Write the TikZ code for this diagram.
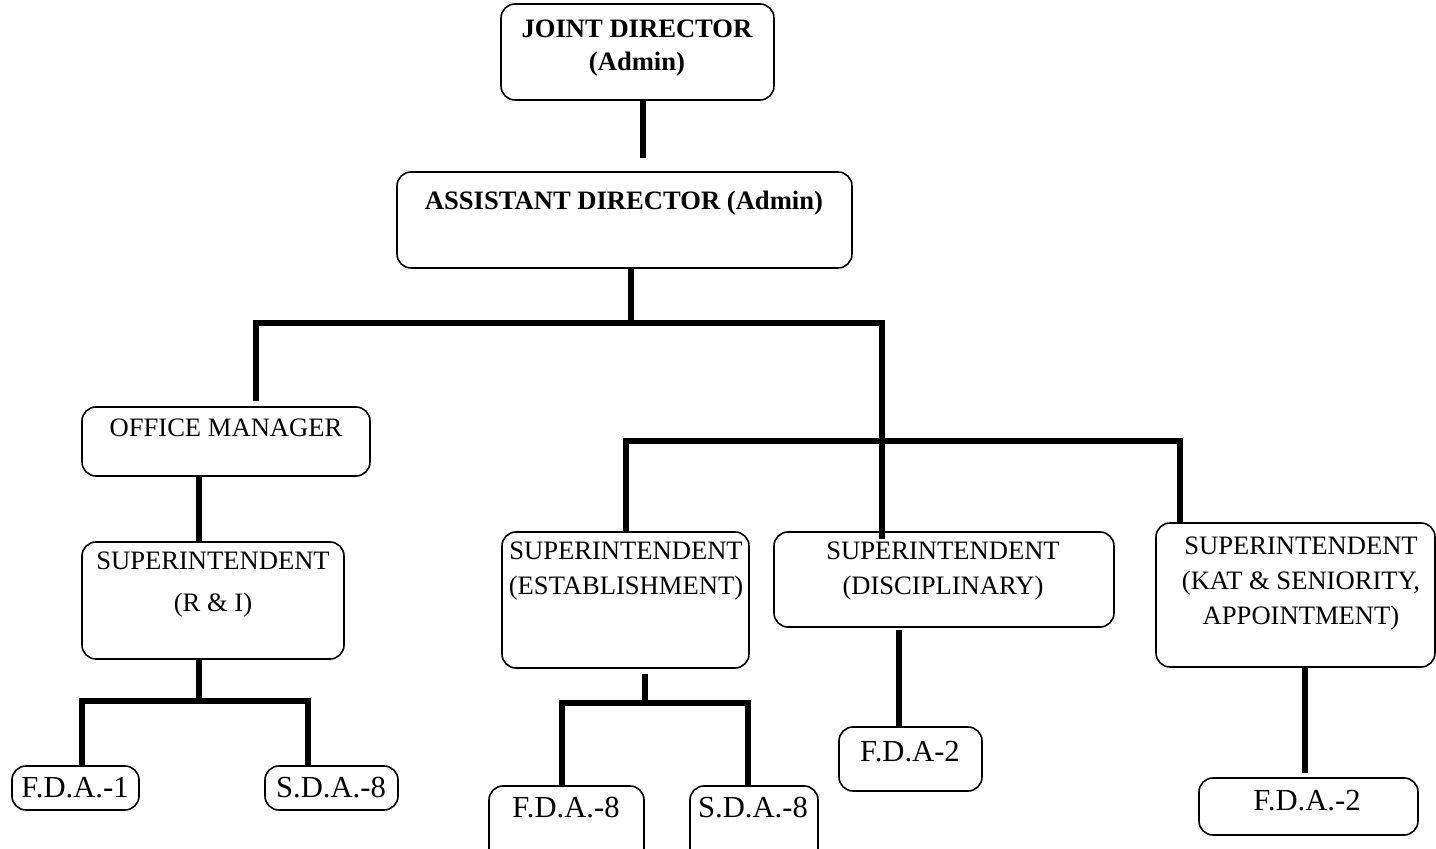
\documentclass[tikz,border=0pt]{standalone}
\usepackage{fontspec}
\setmainfont{Liberation Serif}
\tikzset{
  box/.style={draw, rounded corners=7pt, line width=0.8pt, inner sep=0pt},
  link/.style={line width=3pt},
  boxtext/.style={align=center, inner sep=0pt, font=\fontsize{13.3}{17.5}\selectfont},
  headtext/.style={align=center, inner sep=0pt, font=\fontsize{13.3}{16.5}\selectfont\bfseries},
  smalltext/.style={inner sep=0pt, font=\fontsize{15.3}{18}\selectfont},
}
\begin{document}
\begin{tikzpicture}[x=0.5pt, y=-0.5pt]
	  \path [use as bounding box, clip] (0,0) rectangle (1436,849);

	  % boxes
	  \node [box, minimum width=136.5pt, minimum height=48pt] (jd) at (637.5,52) {};
	  \node [box, minimum width=227.5pt, minimum height=48pt] (ad) at (624.5,220) {};
	  \node [box, minimum width=144pt, minimum height=34.5pt] (om) at (226,441.5) {};
	  \node [box, minimum width=131pt, minimum height=58.5pt] (ri) at (213,600.5) {};
	  \node [box, minimum width=123.5pt, minimum height=68pt] (est) at (625.5,600) {};
	  \node [box, minimum width=170pt, minimum height=47.5pt] (dis) at (944,579.5) {};
	  \node [box, minimum width=139.5pt, minimum height=72pt] (kat) at (1295.5,595) {};
	  \node [box, minimum width=63.5pt, minimum height=22pt] (fdaa) at (75.5,788) {};
	  \node [box, minimum width=66.5pt, minimum height=22pt] (sdaa) at (331.5,788) {};
	  \node [box, minimum width=77.5pt, minimum height=47pt] (fdab) at (566.5,833) {};
	  \node [box, minimum width=64pt, minimum height=47pt] (sdab) at (754,833) {};
	  \node [box, minimum width=71.5pt, minimum height=32pt] (fdac) at (910.5,759) {};
	  \node [box, minimum width=109.5pt, minimum height=28.5pt] (fdad) at (1308.5,806.5) {};

	  % texts
	  \node [headtext] (jdtxt) at (637,48) {JOINT DIRECTOR\\(Admin)};
	  \node [headtext] (adtxt) at (624,203) {ASSISTANT DIRECTOR (Admin)};
	  \node [boxtext] (omtxt) at (226,428) {OFFICE MANAGER};
	  \node [boxtext] (ritxt) at (213,585) {SUPERINTENDENT\\[3.5pt](R \& I)};
	  \node [boxtext] (esttxt) at (626,571) {SUPERINTENDENT\\(ESTABLISHMENT)};
	  \node [boxtext] (distxt) at (943,571) {SUPERINTENDENT\\(DISCIPLINARY)};
	  \node [boxtext] (kattxt) at (1301,584) {SUPERINTENDENT\\(KAT \& SENIORITY,\\APPOINTMENT)};
	  \node [smalltext] (fdaatxt) at (75,788) {F.D.A.-1};
	  \node [smalltext] (sdaatxt) at (331,788) {S.D.A.-8};
	  \node [smalltext] (fdabtxt) at (566,808) {F.D.A.-8};
	  \node [smalltext] (sdabtxt) at (753,808) {S.D.A.-8};
	  \node [smalltext] (fdactxt) at (910,752) {F.D.A-2};
	  \node [smalltext] (fdadtxt) at (1307,801) {F.D.A.-2};

	  % junctions
	  \coordinate (top) at (643,158);
	  \coordinate (b1) at (631,323);
	  \coordinate (b1l) at (256,323);
	  \coordinate (b1r) at (882,323);
	  \coordinate (b2l) at (626,441);
	  \coordinate (b2r) at (1180,441);
	  \coordinate (b3) at (199,701);
	  \coordinate (b3l) at (82,701);
	  \coordinate (b3r) at (308,701);
	  \coordinate (b4) at (645,703);
	  \coordinate (b4l) at (562,703);
	  \coordinate (b4r) at (748,703);
	  \coordinate (d1) at (899,630);
	  \coordinate (k1) at (1305,773);

	  % links
	  \draw [link] (jd.south -| top) -- (top);
	  \draw [link] (ad.south -| b1) -- (b1);
	  \draw [link] ([yshift=2.5pt]om.north -| b1l) -- (b1l) -- (b1r) -- ([yshift=-4pt]dis.north -| b1r);
	  \draw [link] (est.north -| b2l) -- (b2l) -- (b2r) -- (kat.north -| b2r);

	  \draw [link] (om.south -| b3) -- (ri.north -| b3);
	  \draw [link] (ri.south -| b3) -- (b3);
	  \draw [link] (fdaa.north -| b3l) -- (b3l) -- (b3r) -- (sdaa.north -| b3r);

	  \draw [link] ([yshift=-2.5pt]est.south -| b4) -- (b4);
	  \draw [link] (fdab.north -| b4l) -- (b4l) -- (b4r) -- (sdab.north -| b4r);

	  \draw [link] (d1) -- (d1 |- fdac.north);
	  \draw [link] (kat.south -| k1) -- (k1);
	\end{tikzpicture}
\end{document}
